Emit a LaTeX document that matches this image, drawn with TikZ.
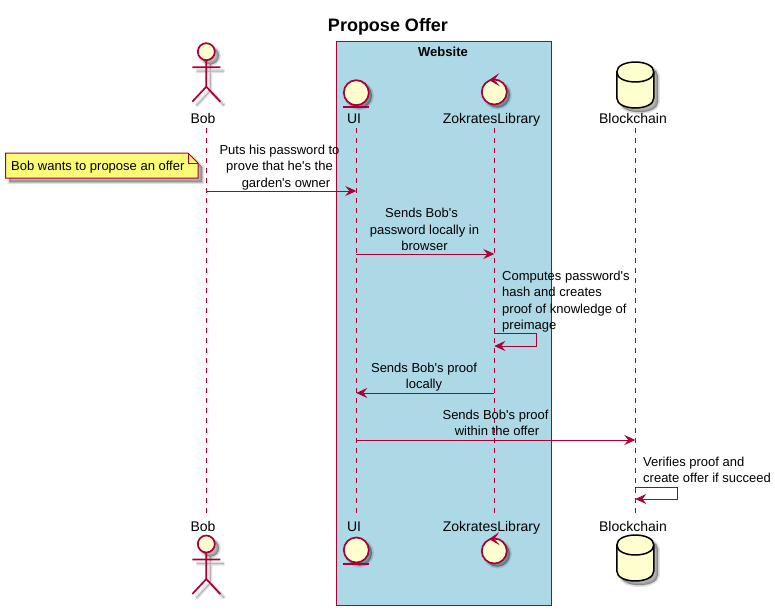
\documentclass[tikz,border=0pt]{standalone}
\usepackage{fontspec}
\setmainfont{Liberation Sans}
\usepackage{xcolor}
\usetikzlibrary{arrows.meta, positioning}

\definecolor{umlred}{HTML}{A80036}
\definecolor{umlfill}{HTML}{FEFECE}
\definecolor{umlnote}{HTML}{FBFB77}
\definecolor{umlbox}{HTML}{ADD8E6}

\tikzset{
	msg/.style={draw=umlred, line width=1pt, -{Stealth[length=11pt, width=10pt, inset=4pt]}},
	life/.style={draw=umlred, line width=1pt, dash pattern=on 5pt off 5pt},
	figline/.style={draw=umlred, line width=1.7pt, fill=umlfill},
	softA/.style={draw=black, fill=black, opacity=0.12, line width=4pt},
	softB/.style={draw=black, fill=black, opacity=0.20, line width=1pt},
	partname/.style={font=\fontsize{14}{16}\selectfont, inner sep=0pt, anchor=base},
	msgtext/.style={font=\fontsize{13}{16.4}\selectfont, align=center, inner sep=0pt},
	msgleft/.style={font=\fontsize{13}{16.4}\selectfont, align=left, anchor=west, inner sep=0pt},
	actorpic/.pic={
		\foreach \s in {softA, softB}{
			\draw[\s, shift={(4,4)}] (0,0) circle (8.5);
			\draw[\s, shift={(4,4)}, fill=none] (-14,15.5) -- (14,15.5) (0,8.5) -- (0,35) (-14,50) -- (0,35) -- (14,50);
		}
		\draw[figline] (0,0) circle (8.5);
		\draw[figline, fill=none] (-14,15.5) -- (14,15.5) (0,8.5) -- (0,35) (-14,50) -- (0,35) -- (14,50);
	},
	entitypic/.pic={
		\foreach \s in {softA, softB}{
			\draw[\s, shift={(3,3)}] (0,0) circle (12.5);
		}
		\draw[figline] (0,0) circle (12.5);
		\draw[figline, fill=none] (-13,14) -- (13,14);
	},
	controlpic/.pic={
		\foreach \s in {softA, softB}{
			\draw[\s, shift={(3,3)}] (0,0) circle (12.5);
		}
		\draw[figline] (0,0) circle (12.5);
		\draw[draw=umlred, fill=umlred, line width=0.7pt] (3.5,-17.5) -- (-4.5,-12) -- (4,-7) -- (-0.5,-12) -- cycle;
	},
	dbpic/.pic={
		\foreach \s in {softA, softB}{
			\draw[\s, shift={(4,4)}] (-18.5,-20) .. controls (-18.5,-33.3) and (18.5,-33.3) .. (18.5,-20) -- (18.5,6) .. controls (18.5,19.3) and (-18.5,19.3) .. (-18.5,6) -- cycle;
		}
		\draw[draw=black, fill=umlfill, line width=1.5pt] (-18.5,-20) .. controls (-18.5,-33.3) and (18.5,-33.3) .. (18.5,-20) -- (18.5,6) .. controls (18.5,19.3) and (-18.5,19.3) .. (-18.5,6) -- cycle;
		\draw[draw=black, line width=1.5pt] (-18.5,-20) .. controls (-18.5,-6.7) and (18.5,-6.7) .. (18.5,-20);
	},
}

\begin{document}
\begin{tikzpicture}[x=1pt, y=-1pt]
	\useasboundingbox (0,0) rectangle (775,610);
	% Title and box:
	\node[font=\bfseries\fontsize{18}{20}\selectfont, inner sep=0pt] (title) at (388,26.5) {Propose Offer};
	\node[draw=umlred, fill=umlbox, line width=1pt, minimum width=215.5pt, minimum height=563pt, inner sep=0pt] (website) at (443.8,323.5) {};
	\node[font=\bfseries\fontsize{13}{15}\selectfont, inner sep=0pt] (websiteName) at (443,52) {Website};
	% Lifelines:
	\coordinate (bobTop) at (206.3,128);
	\coordinate (bobEnd) at (206.3,516);
	\coordinate (uiTop) at (356.3,128);
	\coordinate (uiEnd) at (356.3,516);
	\coordinate (zokTop) at (494.3,128);
	\coordinate (zokEnd) at (494.3,516);
	\coordinate (chainTop) at (635.3,128);
	\coordinate (chainEnd) at (635.3,516);
	\draw[life] (bobTop) -- (bobEnd);
	\draw[life] (uiTop) -- (uiEnd);
	\draw[life] (zokTop) -- (zokEnd);
	\draw[life] (chainTop) -- (chainEnd);
	% Participants, top and bottom:
	\pic at (206.3,51.7) {actorpic};
	\pic at (206.3,544) {actorpic};
	\pic at (356.3,92.7) {entitypic};
	\pic at (356.3,550) {entitypic};
	\pic at (494.3,92) {controlpic};
	\pic at (494.3,551) {controlpic};
	\pic at (635.3,92) {dbpic};
	\pic at (635.3,565) {dbpic};
	\node[partname] (bobName) at (203,123) {Bob};
	\node[partname] (uiName) at (354,123) {UI};
	\node[partname] (zokName) at (491.5,123) {ZokratesLibrary};
	\node[partname] (chainName) at (633,123) {Blockchain};
	\node[partname] (bobFoot) at (203,531) {Bob};
	\node[partname] (uiFoot) at (354,531) {UI};
	\node[partname] (zokFoot) at (491.5,531) {ZokratesLibrary};
	\node[partname] (chainFoot) at (633,531) {Blockchain};
	% Note:
	\foreach \s in {softA, softB}{
		\draw[\s, shift={(4,4)}] (5.5,153) -- (188,153) -- (198,163) -- (198,178) -- (5.5,178) -- cycle;
	}
	\draw[draw=umlred, fill=umlnote, line width=1pt] (5.5,153) -- (188,153) -- (198,163) -- (198,178) -- (5.5,178) -- cycle;
	\draw[draw=umlred, line width=1pt] (188,153) -- (188,163) -- (198,163);
	\node[msgleft] (noteText) at (11,167) {Bob wants to propose an offer};
	% Messages:
	\coordinate (msgA) at (0,191);
	\coordinate (msgB) at (0,254);
	\coordinate (msgC) at (0,333);
	\coordinate (msgCback) at (0,346);
	\coordinate (msgD) at (0,393);
	\coordinate (msgE) at (0,440);
	\coordinate (msgF) at (0,487);
	\coordinate (msgFback) at (0,499);
	\draw[msg] (bobTop |- msgA) -- (uiTop |- msgA);
	\draw[msg] (uiTop |- msgB) -- (zokTop |- msgB);
	\draw[msg] (zokTop |- msgC) -- ++(42.5,0) |- (zokTop |- msgCback);
	\draw[msg] (zokTop |- msgD) -- (uiTop |- msgD);
	\draw[msg] (uiTop |- msgE) -- (chainTop |- msgE);
	\draw[msg] (chainTop |- msgF) -- ++(42.5,0) |- (chainTop |- msgFback);
	\node[msgtext] (msgAtext) at (279.5,167.5) {Puts his password to\\prove that he\textquotesingle s the\\\hspace*{13pt}garden\textquotesingle s owner};
	\node[msgtext] (msgBtext) at (424.5,229.5) {Sends Bob\textquotesingle s\hspace*{6pt}\\password locally in\\browser};
	\node[msgleft] (msgCtext) at (502,301.5) {Computes password\textquotesingle s\\hash and creates\\proof of knowledge of\\preimage};
	\node[msgtext] (msgDtext) at (424,377) {Sends Bob\textquotesingle s proof\\locally};
	\node[msgtext] (msgEtext) at (495.5,423) {Sends Bob\textquotesingle s proof\\\hspace*{3pt}within the offer};
	\node[msgleft] (msgFtext) at (643,470) {Verifies proof and\\create offer if succeed};
\end{tikzpicture}
\end{document}
